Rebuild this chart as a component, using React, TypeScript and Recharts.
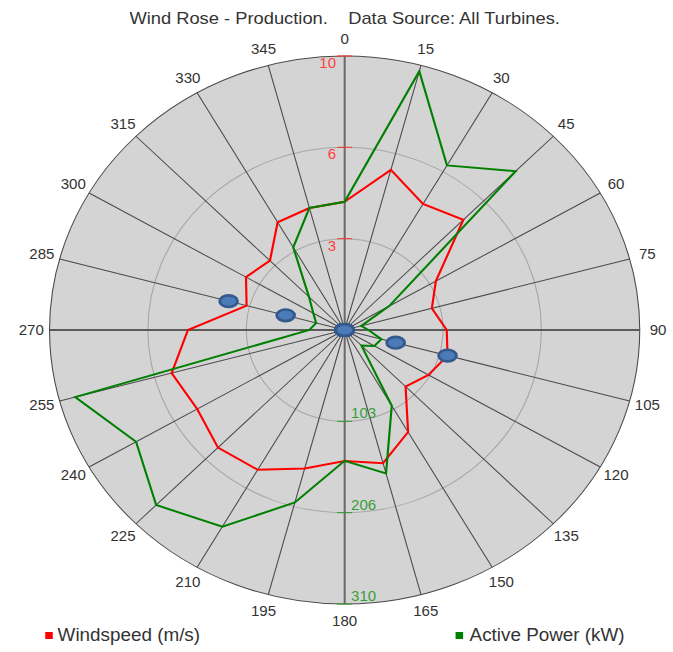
import React from 'react';
import { RadarChart, Radar, PolarGrid, PolarAngleAxis, PolarRadiusAxis } from 'recharts';

const directions = ['0', '15', '30', '45', '60', '75', '90', '105', '120', '135', '150', '165',
  '180', '195', '210', '225', '240', '255', '270', '285', '300', '315', '330', '345'];

// m/s
const windspeed = [4.68, 6.05, 5.31, 5.69, 3.57, 3.06, 3.46, 3.61, 3.28, 2.92, 4.3, 5.03,
  4.78, 5.23, 5.89, 6.07, 5.77, 6.07, 5.31, 3.44, 3.86, 3.58, 4.54, 4.61];

// kW
const activePower = [145, 303, 215, 254, 54, 18, 25, 40, 36, 25, 99, 168,
  148, 202, 257, 280, 253, 293, 37, 31, 38, 53, 108, 143];

// blue markers (m/s scale), zero elsewhere so they stack at the centre
const markerOuter = [0, 0, 0, 0, 0, 0, 0, 3.61, 0, 0, 0, 0, 0, 0, 0, 0, 0, 0, 0, 4.07, 0, 0, 0, 0];
const markerInner = [0, 0, 0, 0, 0, 0, 0, 1.79, 0, 0, 0, 0, 0, 0, 0, 0, 0, 0, 0, 2.07, 0, 0, 0, 0];

const windTicks = [10 / 3, 20 / 3, 10];
const powerTicks = [310 / 3, 620 / 3, 310];

const data = directions.map((dir, i) => ({
  dir,
  ws: windspeed[i],
  pw: activePower[i],
  m1: markerOuter[i],
  m2: markerInner[i],
}));

const W = 625;
const H = 652;
const CX = 320;
const CY = 330;
const R = 274;
const SX = 1.077;
const FONT = '"Liberation Sans", Arial, sans-serif';

const AngleTick = ({ x, y, payload }: any) => (
  <text x={x} y={y} textAnchor="middle" dominantBaseline="central" fontSize={14} fontFamily={FONT} fill="#333">
    {payload.value}
  </text>
);

const WindTick = ({ x, y, payload }: any) => (
  <g>
    <line x1={x - 7} x2={x + 7} y1={y} y2={y} stroke="#ff3030" strokeWidth={1} />
    <text x={x - 8} y={y + 12} textAnchor="end" fontSize={14} fontFamily={FONT} fill="#ff4040">
      {Math.floor(payload.value)}
    </text>
  </g>
);

const PowerTick = ({ x, y, payload }: any) => (
  <g>
    <line x1={x - 7} x2={x + 7} y1={y} y2={y} stroke="#2a9a2a" strokeWidth={1} />
    <text x={x + 6} y={y - 3} textAnchor="start" fontSize={14} fontFamily={FONT} fill="#3a9e3a">
      {Math.floor(payload.value)}
    </text>
  </g>
);

const Marker = (p: any) => (
  <ellipse key={p.index} cx={p.cx} cy={p.cy} rx={8.3} ry={5.8} fill="#4b7bb8" stroke="#34598d" strokeWidth={2.6} />
);

export default function App() {
  return (
    <div style={{ position: 'absolute', left: 0, top: 0, width: W, height: H, transform: `scaleX(${SX})`, transformOrigin: '0 0', fontFamily: FONT }}>
      <div style={{ position: 'absolute', left: CX - 260, width: 520, top: 10, textAlign: 'center', fontSize: 17, lineHeight: '18px', color: '#333', whiteSpace: 'pre' }}>
        {'Wind Rose - Production.    Data Source: All Turbines.'}
      </div>
      <div style={{ position: 'absolute', left: CX - R, top: CY - R, width: 2 * R, height: 2 * R, borderRadius: '50%', background: '#d4d4d4' }} />
      <div style={{ position: 'absolute', left: 0, top: 0 }}>
        <RadarChart width={W} height={H} data={data} cx={CX} cy={CY} outerRadius={R} margin={{ top: 0, right: 0, bottom: 0, left: 0 }}>
          <PolarGrid gridType="circle" radialLines={false} polarRadius={[R / 3, (2 * R) / 3]} stroke="#a6a6a6" />
          <PolarGrid gridType="circle" polarRadius={[R]} stroke="#4a4a4a" strokeWidth={1} />
          <PolarGrid gridType="circle" polarAngles={[90, -90]} polarRadius={[]} stroke="#6a6a6a" strokeWidth={1.8} />
          <PolarGrid gridType="circle" polarAngles={[0, 180]} polarRadius={[]} stroke="#4a4a4a" strokeWidth={1.4} />
          <PolarAngleAxis dataKey="dir" tick={<AngleTick />} tickLine={false} axisLine={false} tickSize={17} />
          <PolarRadiusAxis radiusAxisId="ws" angle={90} domain={[0, 10]} ticks={windTicks} tick={<WindTick />} axisLine={false} />
          <PolarRadiusAxis radiusAxisId="pw" angle={-90} domain={[0, 310]} ticks={powerTicks} tick={<PowerTick />} axisLine={false} />
          <Radar dataKey="ws" radiusAxisId="ws" stroke="#ff0000" strokeWidth={2} fill="none" fillOpacity={0} dot={false} isAnimationActive={false} />
          <Radar dataKey="pw" radiusAxisId="pw" stroke="#008000" strokeWidth={2} fill="none" fillOpacity={0} dot={false} isAnimationActive={false} />
          <Radar dataKey="m1" radiusAxisId="ws" stroke="none" fill="none" fillOpacity={0} dot={Marker} isAnimationActive={false} />
          <Radar dataKey="m2" radiusAxisId="ws" stroke="none" fill="none" fillOpacity={0} dot={Marker} isAnimationActive={false} />
        </RadarChart>
      </div>
      <div style={{ position: 'absolute', left: 41.5, top: 632, width: 7, height: 7, background: '#ff0000' }} />
      <div style={{ position: 'absolute', left: 53.5, top: 626, fontSize: 17.5, lineHeight: '19px', color: '#333' }}>Windspeed (m/s)</div>
      <div style={{ position: 'absolute', left: 422.5, top: 632, width: 7, height: 7, background: '#008000' }} />
      <div style={{ position: 'absolute', left: 436, top: 626, fontSize: 17.5, lineHeight: '19px', color: '#333' }}>Active Power (kW)</div>
    </div>
  );
}
